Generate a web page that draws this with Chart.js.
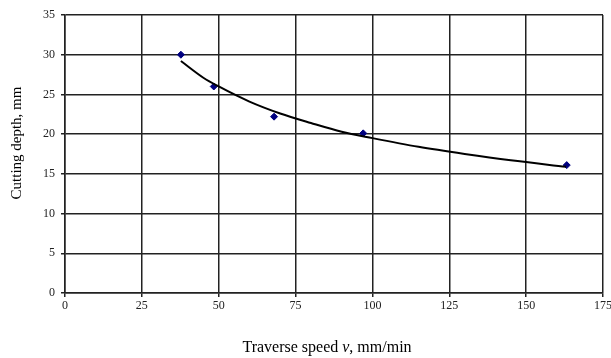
<!DOCTYPE html>
<html>
<head>
<meta charset="utf-8">
<script src="https://cdn.jsdelivr.net/npm/chart.js@4.4.1/dist/chart.umd.min.js"></script>
<style>
  html, body { margin: 0; padding: 0; background: #fff; }
  #wrap { width: 611px; height: 358px; position: relative; }
</style>
</head>
<body>
<div id="wrap"><canvas id="chart"></canvas></div>
<script>
// measured points (traverse speed, cutting depth)
const speedPoints = [37.7, 48.4, 68, 97, 163.2];
const depthPoints = [30, 26, 22.2, 20.1, 16.1];

// trend curve
const trendSpeed = [37.7, 45, 50, 60, 70, 80, 90, 100, 115, 130, 145, 163];
const trendDepth = [29.2, 27.1, 26.0, 24.1, 22.6, 21.4, 20.3, 19.5, 18.4, 17.5, 16.7, 15.9];

const xTicks = [0, 25, 50, 75, 100, 125, 150, 175];
const yTicks = [0, 5, 10, 15, 20, 25, 30, 35];

const serif = "'Liberation Serif', 'Times New Roman', serif";

// axis titles drawn by hand so the "v" can be italic
const axisTitles = {
  id: 'axisTitles',
  afterDraw(chart) {
    const ctx = chart.ctx;
    ctx.save();
    ctx.fillStyle = '#000';
    ctx.textBaseline = 'middle';

    // x title
    const parts = [
      { t: 'Traverse speed ', f: '16px ' + serif },
      { t: 'v', f: 'italic 16px ' + serif },
      { t: ', mm/min', f: '16px ' + serif }
    ];
    let total = 0;
    parts.forEach(p => { ctx.font = p.f; p.w = ctx.measureText(p.t).width; total += p.w; });
    let x = 327 - total / 2;
    ctx.textAlign = 'left';
    parts.forEach(p => { ctx.font = p.f; ctx.fillText(p.t, x, 348); x += p.w; });

    // y title
    ctx.translate(17, 143);
    ctx.rotate(-Math.PI / 2);
    ctx.textAlign = 'center';
    ctx.font = '15px ' + serif;
    ctx.fillText('Cutting depth, mm', 0, 0);
    ctx.restore();
  }
};

new Chart(document.getElementById('chart'), {
  type: 'scatter',
  data: {
    datasets: [
      {
        label: 'Trend',
        data: trendSpeed.map((v, i) => ({ x: v, y: trendDepth[i] })),
        showLine: true,
        borderColor: '#000',
        borderWidth: 2,
        pointRadius: 0,
        cubicInterpolationMode: 'monotone',
        fill: false
      },
      {
        label: 'Measured',
        data: speedPoints.map((v, i) => ({ x: v, y: depthPoints[i] })),
        pointStyle: 'rectRot',
        pointRadius: 3.5,
        backgroundColor: '#000080',
        borderColor: '#000080',
        borderWidth: 1
      }
    ]
  },
  options: {
    responsive: true,
    maintainAspectRatio: false,
    animation: false,
    layout: { padding: { top: 15, right: 0, left: 0, bottom: 0 } },
    plugins: {
      legend: { display: false },
      tooltip: { enabled: false }
    },
    scales: {
      x: {
        type: 'linear',
        min: 0,
        max: 175,
        afterBuildTicks: axis => { axis.ticks = xTicks.map(v => ({ value: v })); },
        afterFit: scale => { scale.height = 65; scale.paddingRight = 8; scale.paddingLeft = 0; },
        grid: { color: '#222', lineWidth: 1.5, tickLength: 4, drawTicks: true },
        border: { color: '#222', width: 1.5 },
        ticks: { color: '#222', font: { family: serif, size: 12 }, padding: 2, maxRotation: 0 }
      },
      y: {
        min: 0,
        max: 35,
        afterBuildTicks: axis => { axis.ticks = yTicks.map(v => ({ value: v })); },
        afterFit: scale => { scale.width = 65; },
        grid: { color: '#222', lineWidth: 1.5, tickLength: 4, drawTicks: true },
        border: { color: '#222', width: 1.5 },
        ticks: { color: '#222', font: { family: serif, size: 12 }, padding: 6 }
      }
    }
  },
  plugins: [axisTitles]
});
</script>
</body>
</html>
